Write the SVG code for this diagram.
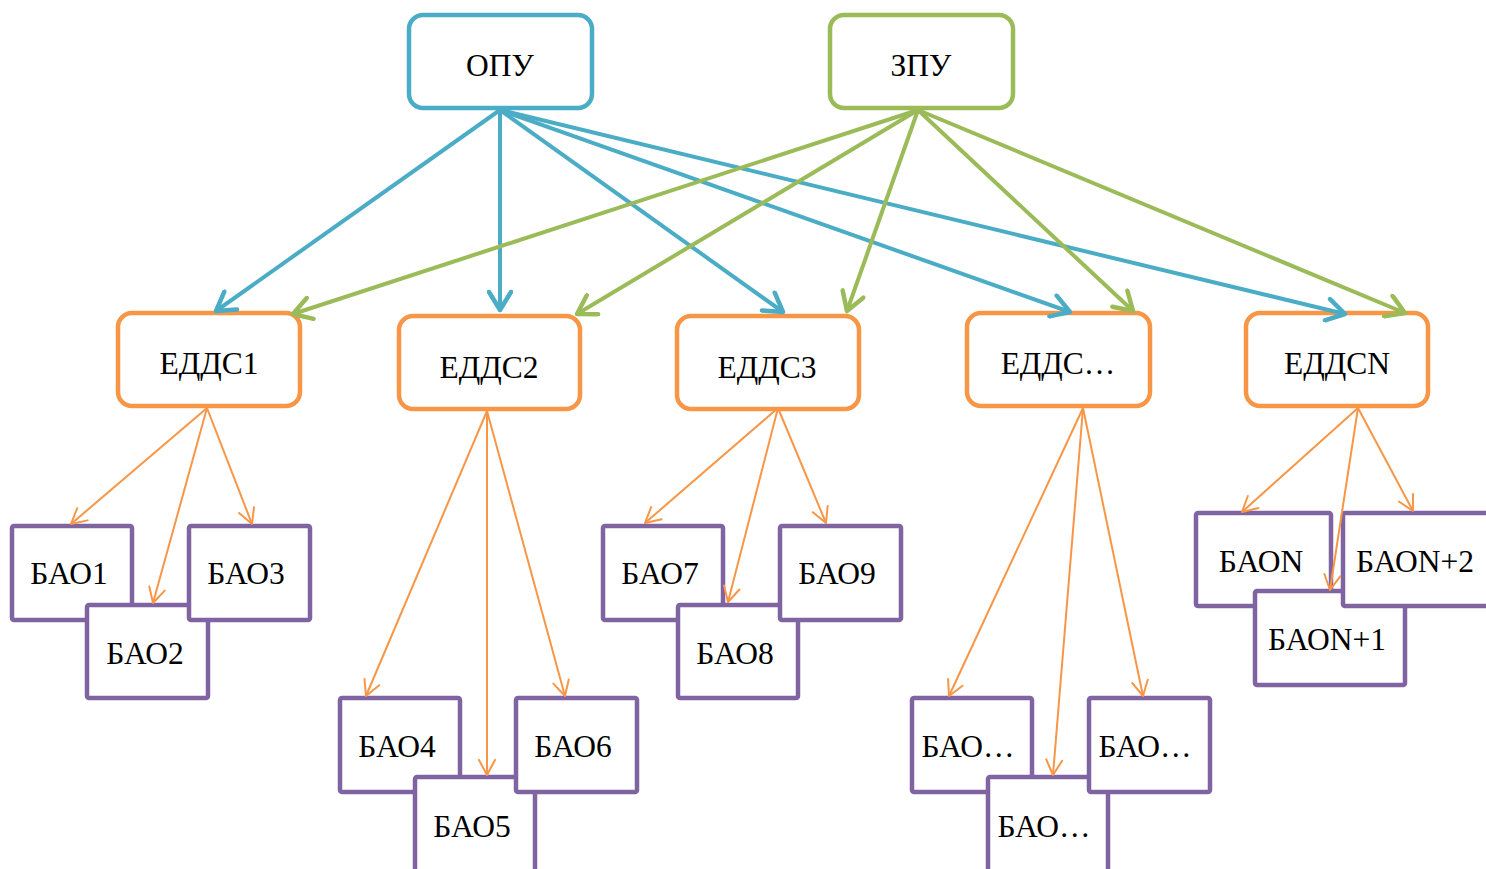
<svg xmlns="http://www.w3.org/2000/svg" width="1486" height="869" viewBox="0 0 1486 869">
<style>
  .t { font-family: "Liberation Serif", "Times New Roman", serif; font-size: 31.5px; fill: #000; text-anchor: middle; }
  .top-b { fill: #fff; stroke: #4BACC6; stroke-width: 4.5; }
  .top-g { fill: #fff; stroke: #9BBB59; stroke-width: 4.5; }
  .mid { fill: #fff; stroke: #F79646; stroke-width: 4.5; }
  .bao { fill: #fff; stroke: #8064A2; stroke-width: 4.5; }
  .cb { stroke: #4BACC6; stroke-width: 4; fill: none; marker-end: url(#ab); }
  .cg { stroke: #9BBB59; stroke-width: 4; fill: none; marker-end: url(#ag); }
  .co { stroke: #F79646; stroke-width: 2; fill: none; marker-end: url(#ao); }
</style>
<defs>
  <marker id="ab" viewBox="-22 -13 26 26" refX="0" refY="0" markerWidth="26" markerHeight="26" markerUnits="userSpaceOnUse" orient="auto">
    <path d="M-18,-11 L0,0 L-18,11" fill="none" stroke="#4BACC6" stroke-width="4.5" stroke-linecap="round" stroke-linejoin="round"/>
  </marker>
  <marker id="ag" viewBox="-22 -13 26 26" refX="0" refY="0" markerWidth="26" markerHeight="26" markerUnits="userSpaceOnUse" orient="auto">
    <path d="M-18,-11 L0,0 L-18,11" fill="none" stroke="#9BBB59" stroke-width="4.5" stroke-linecap="round" stroke-linejoin="round"/>
  </marker>
  <marker id="ao" viewBox="-18 -10 20 20" refX="0" refY="0" markerWidth="20" markerHeight="20" markerUnits="userSpaceOnUse" orient="auto">
    <path d="M-15,-8 L0,0 L-15,8" fill="none" stroke="#F79646" stroke-width="2" stroke-linecap="round" stroke-linejoin="round"/>
  </marker>
</defs>

<g id="opu"><rect class="top-b" x="409" y="15" width="183" height="93" rx="14"/><text class="t" x="500" y="76">ОПУ</text></g>
<g id="zpu"><rect class="top-g" x="830" y="15" width="183" height="93" rx="14"/><text class="t" x="921" y="76">ЗПУ</text></g>

<g id="edds1"><rect class="mid" x="118" y="313" width="182" height="93" rx="14"/><text class="t" x="209" y="374">ЕДДС1</text></g>
<g id="edds2"><rect class="mid" x="399" y="316" width="181" height="93" rx="14"/><text class="t" x="489" y="378">ЕДДС2</text></g>
<g id="edds3"><rect class="mid" x="677" y="316" width="182" height="93" rx="14"/><text class="t" x="767" y="378">ЕДДС3</text></g>
<g id="edds4"><rect class="mid" x="967" y="313" width="183" height="93" rx="14"/><text class="t" x="1058" y="374">ЕДДС…</text></g>
<g id="eddsN"><rect class="mid" x="1246" y="313" width="182" height="93" rx="14"/><text class="t" x="1337" y="374">ЕДДСN</text></g>

<g id="bao1"><rect class="bao" x="12" y="526" width="120" height="94" rx="2"/><text class="t" x="69" y="584">БАО1</text></g>
<g id="bao2"><rect class="bao" x="87" y="605" width="121" height="93" rx="2"/><text class="t" x="145" y="664">БАО2</text></g>
<g id="bao3"><rect class="bao" x="189" y="526" width="121" height="94" rx="2"/><text class="t" x="246" y="584">БАО3</text></g>

<g id="bao4"><rect class="bao" x="340" y="698" width="120" height="94" rx="2"/><text class="t" x="397" y="757">БАО4</text></g>
<g id="bao5"><rect class="bao" x="415" y="777" width="120" height="100" rx="2"/><text class="t" x="472" y="837">БАО5</text></g>
<g id="bao6"><rect class="bao" x="516" y="698" width="121" height="94" rx="2"/><text class="t" x="573" y="757">БАО6</text></g>

<g id="bao7"><rect class="bao" x="603" y="526" width="120" height="94" rx="2"/><text class="t" x="660" y="584">БАО7</text></g>
<g id="bao8"><rect class="bao" x="678" y="605" width="120" height="93" rx="2"/><text class="t" x="735" y="664">БАО8</text></g>
<g id="bao9"><rect class="bao" x="780" y="526" width="121" height="94" rx="2"/><text class="t" x="837" y="584">БАО9</text></g>

<g id="baoA"><rect class="bao" x="912" y="698" width="120" height="94" rx="2"/><text class="t" x="968" y="757">БАО…</text></g>
<g id="baoB"><rect class="bao" x="988" y="777" width="120" height="100" rx="2"/><text class="t" x="1044" y="837">БАО…</text></g>
<g id="baoC"><rect class="bao" x="1089" y="698" width="121" height="94" rx="2"/><text class="t" x="1145" y="757">БАО…</text></g>

<g id="baoN"><rect class="bao" x="1196" y="513" width="135" height="93" rx="2"/><text class="t" x="1261" y="572">БАОN</text></g>
<g id="baoN1"><rect class="bao" x="1255" y="591" width="150" height="94" rx="2"/><text class="t" x="1327" y="650">БАОN+1</text></g>
<g id="baoN2"><rect class="bao" x="1343" y="513" width="150" height="93" rx="2"/><text class="t" x="1415" y="572">БАОN+2</text></g>

<g id="connectors">
  <line class="cb" x1="500" y1="110" x2="216" y2="311"/>
  <line class="cb" x1="500" y1="110" x2="500" y2="310"/>
  <line class="cb" x1="500" y1="110" x2="783" y2="312"/>
  <line class="cb" x1="500" y1="110" x2="1070" y2="312"/>
  <line class="cb" x1="500" y1="110" x2="1345" y2="314"/>
  <line class="cg" x1="918" y1="110" x2="293" y2="314"/>
  <line class="cg" x1="918" y1="110" x2="577" y2="314"/>
  <line class="cg" x1="918" y1="110" x2="847" y2="311"/>
  <line class="cg" x1="918" y1="110" x2="1133" y2="311"/>
  <line class="cg" x1="918" y1="110" x2="1405" y2="313"/>

  <line class="co" x1="207" y1="408" x2="71" y2="524"/>
  <line class="co" x1="207" y1="408" x2="153" y2="603"/>
  <line class="co" x1="207" y1="408" x2="252" y2="524"/>

  <line class="co" x1="487" y1="411" x2="366" y2="696"/>
  <line class="co" x1="487" y1="411" x2="487" y2="775"/>
  <line class="co" x1="487" y1="411" x2="565" y2="696"/>

  <line class="co" x1="778" y1="408" x2="645" y2="523"/>
  <line class="co" x1="778" y1="408" x2="728" y2="602"/>
  <line class="co" x1="778" y1="408" x2="826" y2="523"/>

  <line class="co" x1="1083" y1="408" x2="949" y2="696"/>
  <line class="co" x1="1083" y1="408" x2="1053" y2="775"/>
  <line class="co" x1="1083" y1="408" x2="1143" y2="696"/>

  <line class="co" x1="1358" y1="408" x2="1242" y2="512"/>
  <line class="co" x1="1358" y1="408" x2="1330" y2="590"/>
  <line class="co" x1="1358" y1="408" x2="1413" y2="511"/>
</g>
</svg>
